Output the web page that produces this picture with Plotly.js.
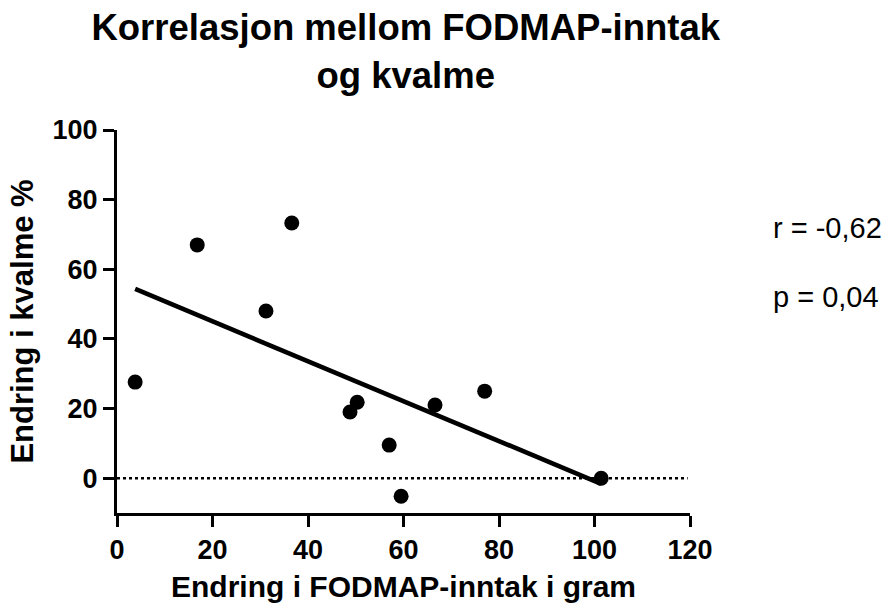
<!DOCTYPE html>
<html><head><meta charset="utf-8">
<script src="https://cdn.plot.ly/plotly-3.0.1.min.js"></script>
<style>body{margin:0;background:#fff}#c{width:884px;height:604px}</style>
</head><body><div id="c"></div>
<script>
const fodmapChange = [3.8, 16.8, 31.2, 36.6, 48.8, 50.3, 57.0, 59.5, 66.6, 77.0, 101.4];
const nauseaChange = [27.6, 67.0, 48.0, 73.3, 19.0, 21.8, 9.5, -5.2, 21.0, 25.0, 0.0];
const xTicks = [0, 20, 40, 60, 80, 100, 120];
const yTicks = [0, 20, 40, 60, 80, 100];
const statsLabels = ["r = -0,62", "p = 0,04"];

// least squares fit from the data
const n = fodmapChange.length;
const mx = fodmapChange.reduce((a,b)=>a+b,0)/n;
const my = nauseaChange.reduce((a,b)=>a+b,0)/n;
let sxy=0, sxx=0;
for (let i=0;i<n;i++){ sxy += (fodmapChange[i]-mx)*(nauseaChange[i]-my); sxx += (fodmapChange[i]-mx)**2; }
const slope = sxy/sxx, icpt = my - slope*mx;
const xmin = Math.min(...fodmapChange), xmax = Math.max(...fodmapChange);
const fitX = [xmin, xmax];
const fitY = fitX.map(v => icpt + slope*v);

const font = "Liberation Sans, Arial, sans-serif";
const traces = [
  {x: fitX, y: fitY, mode: 'lines', line: {color: '#000', width: 4.6}, hoverinfo: 'skip'},
  {x: fodmapChange, y: nauseaChange, mode: 'markers', marker: {color: '#000', size: 15}}
];
const layout = {
  width: 884, height: 604, showlegend: false,
  paper_bgcolor: '#fff', plot_bgcolor: '#fff',
  margin: {l: 117, r: 194, t: 130, b: 91},
  title: {text: '<b>Korrelasjon mellom FODMAP-inntak<br>og kvalme</b>', x: 0.459, xanchor: 'center', y: 0.933, yanchor: 'top',
          font: {family: font, size: 36.5, color: '#000'}},
  xaxis: {range: [0, 120], tickvals: xTicks, ticktext: xTicks.map(v => '<b>'+v+'</b>'),
          showgrid: false, zeroline: false, showline: true, linecolor: '#000', linewidth: 3,
          ticks: 'outside', ticklen: 11, tickwidth: 3, tickcolor: '#000',
          tickfont: {family: font, size: 27, color: '#000'},
          title: {text: '<b>Endring i FODMAP-inntak i gram</b>', font: {family: font, size: 30, color: '#000'}, standoff: 12}},
  yaxis: {range: [-10, 100], tickvals: yTicks, ticktext: yTicks.map(v => '<b>'+v+'</b>'),
          showgrid: false, zeroline: false, showline: true, linecolor: '#000', linewidth: 3,
          ticks: 'outside', ticklen: 11, tickwidth: 3, tickcolor: '#000',
          tickfont: {family: font, size: 27, color: '#000'},
          title: {text: '<b>Endring i kvalme %</b>', font: {family: font, size: 31, color: '#000'}, standoff: 10}},
  shapes: [{type: 'line', xref: 'x', yref: 'y', x0: 0, x1: 119.5, y0: 0, y1: 0,
            line: {color: '#000', width: 2.5, dash: 'dot'}, layer: 'below'}],
  annotations: [
    {text: statsLabels[0], xref: 'paper', yref: 'paper', x: 1.142, y: 0.744, xanchor: 'left', yanchor: 'middle', showarrow: false,
     font: {family: font, size: 29, color: '#000'}},
    {text: statsLabels[1], xref: 'paper', yref: 'paper', x: 1.142, y: 0.564, xanchor: 'left', yanchor: 'middle', showarrow: false,
     font: {family: font, size: 29, color: '#000'}}
  ]
};
Plotly.newPlot('c', traces, layout, {displayModeBar: false, staticPlot: true});
</script></body></html>
